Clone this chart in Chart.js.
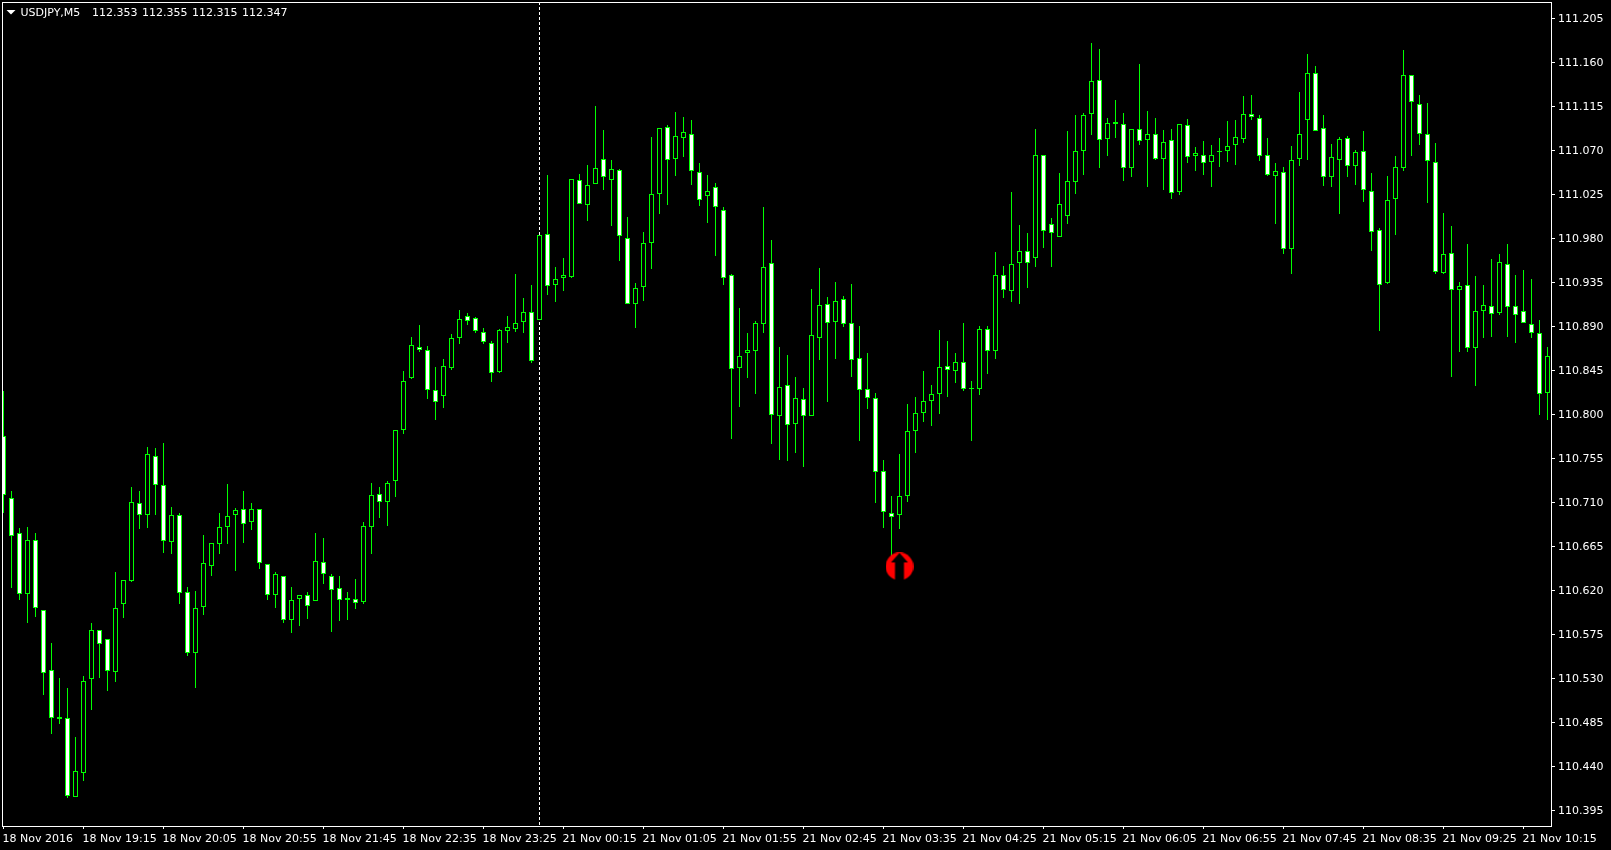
<!DOCTYPE html>
<html><head><meta charset="utf-8"><title>USDJPY,M5</title>
<style>html,body{margin:0;padding:0;background:#000;overflow:hidden}canvas{display:block}</style>
<script src="https://cdn.jsdelivr.net/npm/chart.js@4/dist/chart.umd.min.js"></script>
</head><body><canvas id="c" width="1611" height="850"></canvas>
<script>
const symbolTitle = "USDJPY,M5";
const headerQuotes = ["112.353","112.355","112.315","112.347"];
const priceTicks = [110.395,110.44,110.485,110.53,110.575,110.62,110.665,110.71,110.755,110.8,110.845,110.89,110.935,110.98,111.025,111.07,111.115,111.16,111.205];
const timeTickBars = [0,10,20,30,40,50,60,70,80,90,100,110,120,130,140,150,160,170,180,190];
const timeTickLabels = ["18 Nov 2016","18 Nov 19:15","18 Nov 20:05","18 Nov 20:55","18 Nov 21:45","18 Nov 22:35","18 Nov 23:25","21 Nov 00:15","21 Nov 01:05","21 Nov 01:55","21 Nov 02:45","21 Nov 03:35","21 Nov 04:25","21 Nov 05:15","21 Nov 06:05","21 Nov 06:55","21 Nov 07:45","21 Nov 08:35","21 Nov 09:25","21 Nov 10:15"];
const separatorBar = 67;
const signalBar = 112;
const signalPrice = 110.645;
const highs = [
110.824,110.722,110.684,110.685,110.679,110.600,110.567,110.531,110.521,110.471,
110.533,110.587,110.580,110.571,110.639,110.631,110.726,110.722,110.767,110.766,
110.771,110.706,110.700,110.624,110.620,110.677,110.669,110.700,110.729,110.705,
110.722,110.710,110.704,110.647,110.639,110.635,110.624,110.616,110.619,110.679,
110.674,110.637,110.635,110.619,110.632,110.690,110.730,110.726,110.732,110.785,
110.845,110.880,110.892,110.870,110.849,110.857,110.883,110.907,110.904,110.900,
110.889,110.875,110.888,110.901,110.944,110.919,110.933,110.984,111.045,110.951,
110.960,111.041,111.046,111.055,111.116,111.091,111.061,111.051,111.002,110.935,
110.987,111.084,111.093,111.096,111.110,111.105,111.101,111.057,111.045,111.037,
111.013,110.944,110.909,110.884,110.896,111.012,110.979,110.869,110.861,110.839,
110.827,110.929,110.950,110.920,110.936,110.921,110.934,110.891,110.863,110.822,
110.754,110.717,110.760,110.811,110.818,110.845,110.831,110.887,110.876,110.863,
110.894,110.835,110.891,110.891,110.966,110.952,111.028,110.994,110.986,111.092,
111.066,111.001,111.047,111.090,111.107,111.109,111.180,111.174,111.103,111.122,
111.109,111.092,111.159,111.111,111.103,111.091,111.092,111.097,111.102,111.074,
111.080,111.076,111.083,111.100,111.101,111.126,111.127,111.107,111.083,111.057,
111.053,111.075,111.130,111.169,111.157,111.107,111.077,111.084,111.085,111.071,
111.090,111.047,110.991,111.044,111.065,111.173,111.147,111.127,111.119,111.078,
111.006,110.993,110.936,110.975,110.942,110.933,110.959,110.964,110.975,110.943,
110.948,110.939,110.897,110.869];
const lows = [
110.700,110.623,110.611,110.587,110.593,110.514,110.474,110.484,110.408,110.409,
110.426,110.498,110.531,110.518,110.527,110.592,110.629,110.683,110.684,110.698,
110.659,110.658,110.607,110.553,110.521,110.595,110.635,110.658,110.668,110.640,
110.669,110.682,110.642,110.611,110.603,110.587,110.577,110.584,110.591,110.610,
110.627,110.578,110.589,110.590,110.601,110.607,110.658,110.695,110.686,110.716,
110.780,110.837,110.864,110.816,110.795,110.807,110.846,110.872,110.892,110.884,
110.872,110.834,110.843,110.873,110.885,110.884,110.853,110.897,110.923,110.915,
110.927,110.940,111.016,110.998,111.036,111.030,110.993,110.957,110.913,110.889,
110.916,110.949,111.005,111.015,111.044,111.064,111.035,111.014,110.996,110.962,
110.933,110.775,110.808,110.838,110.821,110.884,110.770,110.754,110.753,110.761,
110.747,110.799,110.856,110.813,110.857,110.890,110.839,110.773,110.806,110.710,
110.684,110.649,110.683,110.711,110.761,110.793,110.789,110.801,110.818,110.833,
110.824,110.773,110.820,110.842,110.857,110.919,110.915,110.913,110.930,110.951,
110.971,110.951,110.982,110.995,111.026,111.045,111.086,111.052,111.065,111.083,
111.039,111.043,111.076,111.033,111.061,111.030,111.021,111.025,111.057,111.049,
111.045,111.033,111.053,111.059,111.055,111.078,111.101,111.060,111.044,110.995,
110.964,110.944,111.054,111.061,111.090,111.034,111.033,111.005,111.043,111.035,
111.018,110.968,110.886,110.934,110.984,111.049,111.065,111.076,111.017,110.944,
110.944,110.839,110.864,110.864,110.829,110.879,110.880,110.902,110.880,110.873,
110.894,110.879,110.800,110.795];
const opens = [
110.778,110.715,110.679,110.617,110.672,110.600,110.539,110.489,110.490,110.409,
110.434,110.530,110.580,110.571,110.537,110.607,110.630,110.710,110.698,110.758,
110.728,110.670,110.698,110.619,110.556,110.604,110.645,110.668,110.685,110.698,
110.704,110.690,110.704,110.647,110.616,110.635,110.590,110.612,110.616,110.610,
110.650,110.635,110.623,110.613,110.612,110.609,110.685,110.719,110.711,110.732,
110.785,110.838,110.869,110.866,110.825,110.819,110.848,110.879,110.901,110.899,
110.885,110.873,110.844,110.886,110.888,110.895,110.905,110.897,110.985,110.933,
110.940,110.941,111.040,111.015,111.036,111.062,111.040,111.050,110.981,110.913,
110.931,110.976,111.026,111.094,111.062,111.083,111.087,111.048,111.024,111.033,
111.009,110.943,110.848,110.863,110.865,110.893,110.955,110.799,110.831,110.791,
110.816,110.799,110.879,110.913,110.895,110.918,110.894,110.858,110.826,110.817,
110.743,110.700,110.698,110.717,110.783,110.802,110.814,110.821,110.850,110.845,
110.854,110.827,110.826,110.888,110.865,110.943,110.927,110.955,110.968,110.960,
111.066,110.995,110.982,111.003,111.038,111.070,111.108,111.142,111.082,111.099,
111.097,111.052,111.092,111.081,111.087,111.062,111.081,111.028,111.096,111.065,
111.066,111.058,111.070,111.070,111.076,111.082,111.108,111.104,111.066,111.044,
111.048,110.970,111.062,111.101,111.149,111.093,111.043,111.061,111.083,111.054,
111.070,111.029,110.989,110.935,111.021,111.052,111.147,111.118,111.087,111.059,
110.945,110.965,110.928,110.933,110.868,110.906,110.911,110.904,110.954,110.911,
110.906,110.893,110.884,110.822];
const closes = [
110.718,110.676,110.617,110.672,110.602,110.536,110.490,110.491,110.410,110.436,
110.528,110.580,110.566,110.538,110.602,110.631,110.711,110.698,110.760,110.728,
110.671,110.698,110.618,110.556,110.603,110.648,110.669,110.685,110.697,110.703,
110.688,110.704,110.648,110.616,110.637,110.590,110.611,110.616,110.605,110.651,
110.637,110.621,110.611,110.611,110.608,110.686,110.718,110.711,110.730,110.785,
110.835,110.871,110.866,110.825,110.813,110.850,110.879,110.898,110.896,110.886,
110.874,110.843,110.887,110.890,110.894,110.905,110.855,110.984,110.932,110.939,
110.943,111.041,111.016,111.035,111.052,111.043,111.051,110.983,110.913,110.930,
110.976,111.026,111.093,111.061,111.085,111.089,111.049,111.020,111.029,111.012,
110.940,110.847,110.860,110.866,110.894,110.951,110.800,110.828,110.790,110.817,
110.799,110.882,110.912,110.894,110.916,110.893,110.856,110.825,110.817,110.742,
110.701,110.696,110.717,110.783,110.802,110.814,110.821,110.849,110.846,110.854,
110.826,110.826,110.888,110.865,110.943,110.928,110.954,110.968,110.955,111.066,
110.988,110.986,111.016,111.039,111.070,111.107,111.141,111.081,111.098,111.097,
111.052,111.092,111.080,111.087,111.062,111.079,111.027,111.097,111.064,111.068,
111.057,111.066,111.069,111.075,111.084,111.108,111.105,111.065,111.045,111.049,
110.970,111.061,111.087,111.150,111.090,111.043,111.064,111.082,111.054,111.069,
111.030,110.987,110.933,111.020,111.053,111.147,111.120,111.087,111.060,110.946,
110.964,110.928,110.932,110.868,110.906,110.912,110.903,110.956,110.910,110.902,
110.894,110.884,110.821,110.860];

const LIME = "#00ff00", WHITE = "#ffffff", BLACK = "#000000";
const FONT = '11px "DejaVu Sans"';

function makeArrow() {
  const c = document.createElement("canvas"); c.width = 28; c.height = 28;
  const g = c.getContext("2d");
  g.fillStyle = "#ff0000"; g.beginPath(); g.arc(14, 14, 13.9, 0, Math.PI * 2); g.fill();
  g.fillStyle = BLACK; g.beginPath();
  g.moveTo(14, 0.5); g.lineTo(22.5, 10); g.lineTo(18.5, 10); g.lineTo(18.5, 28);
  g.lineTo(9.5, 28); g.lineTo(9.5, 10); g.lineTo(5.5, 10); g.closePath(); g.fill();
  return c;
}

const snapBars = {
  id: "snapBars",
  afterDatasetsUpdate(chart) {
    chart.data.datasets.forEach((d, i) => {
      if (d.type !== "bar") return;
      chart.getDatasetMeta(i).data.forEach(el => {
        el.y = Math.round(el.y); el.base = Math.round(el.base);
        if (el.y === el.base) el.base += 1;
      });
    });
  }
};
const frame = {
  id: "frame",
  beforeDatasetsDraw(chart) {
    const {ctx, chartArea: a, scales: {x}} = chart;
    ctx.save(); ctx.strokeStyle = WHITE; ctx.lineWidth = 1; ctx.setLineDash([3, 2]);
    const px = Math.floor(x.getPixelForValue(separatorBar)) + 0.5;
    ctx.beginPath(); ctx.moveTo(px, a.top); ctx.lineTo(px, a.bottom); ctx.stroke();
    ctx.restore();
  },
  afterDraw(chart) {
    const {ctx, chartArea: a} = chart;
    ctx.save(); ctx.strokeStyle = WHITE; ctx.lineWidth = 1;
    ctx.strokeRect(a.left + 0.5, a.top + 0.5, a.right - a.left - 1, a.bottom - a.top);
    ctx.fillStyle = WHITE; ctx.beginPath();
    ctx.moveTo(6.5, 10); ctx.lineTo(15.5, 10); ctx.lineTo(11, 14.5); ctx.closePath(); ctx.fill();
    ctx.font = FONT; ctx.textBaseline = "middle"; ctx.textAlign = "left";
    ctx.fillText(symbolTitle, 20.5, 13);
    headerQuotes.forEach((q, i) => ctx.fillText(q, 92 + 50 * i, 13));
    ctx.restore();
  }
};

const barIdx = highs.map((_, i) => i);
new Chart(document.getElementById("c"), {
  data: { datasets: [
    { type: "scatter", order: 0, data: [{x: signalBar, y: signalPrice}], pointStyle: makeArrow(), pointRadius: 14, showLine: false },
    { type: "bar", order: 1, grouped: false, barThickness: 5, inflateAmount: 0, borderWidth: 1, borderSkipped: false, borderColor: LIME,
      backgroundColor: barIdx.map(i => closes[i] < opens[i] ? WHITE : BLACK),
      data: barIdx.map(i => ({x: i, y: [opens[i], closes[i]]})) },
    { type: "bar", order: 2, grouped: false, barThickness: 1, inflateAmount: 0, borderWidth: 0, backgroundColor: LIME,
      data: barIdx.map(i => ({x: i, y: [lows[i], highs[i]]})) }
  ]},
  options: {
    responsive: false, animation: false, events: [], devicePixelRatio: 1,
    layout: { autoPadding: false, padding: {left: 2, top: 2, right: 0, bottom: 0} },
    plugins: { legend: {display: false}, tooltip: {enabled: false}, title: {display: false} },
    scales: {
      x: { type: "linear", offset: false, min: -0.1875, max: 193.5625,
        afterBuildTicks: s => { s.ticks = timeTickBars.map(v => ({value: v})); },
        afterFit: s => { s.height = 24; s.paddingLeft = 0; s.paddingRight = 0; },
        border: {display: false},
        grid: {drawOnChartArea: false, drawTicks: true, tickLength: 3, tickColor: WHITE, offset: false},
        ticks: { align: "start", autoSkip: false, maxRotation: 0, minRotation: 0, padding: 4, labelOffset: -1, color: WHITE,
          font: {family: "DejaVu Sans", size: 11},
          callback: v => timeTickLabels[timeTickBars.indexOf(v)] } },
      y: { type: "linear", position: "right", min: 110.3796, max: 111.2221,
        afterBuildTicks: s => { s.ticks = priceTicks.map(v => ({value: v})); },
        afterFit: s => { s.width = 59; s.paddingTop = 0; s.paddingBottom = 0; },
        border: {display: false},
        grid: {drawOnChartArea: false, drawTicks: true, tickLength: 3, tickColor: WHITE},
        ticks: { autoSkip: false, padding: 3, color: WHITE, font: {family: "DejaVu Sans", size: 11},
          callback: v => v.toFixed(3) } }
    }
  },
  plugins: [snapBars, frame]
});
</script></body></html>
